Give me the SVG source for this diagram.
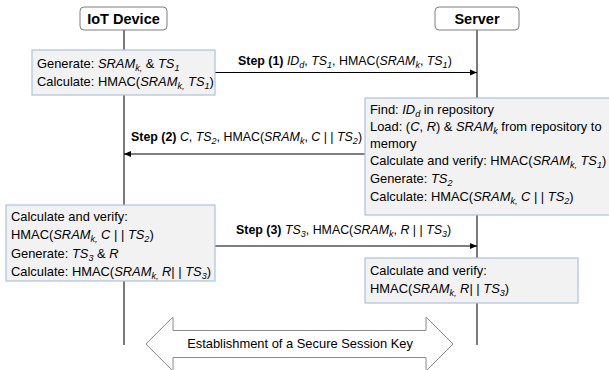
<svg xmlns="http://www.w3.org/2000/svg" width="609" height="370" viewBox="0 0 609 370">
<defs>
<marker id="ah" markerWidth="8" markerHeight="8" refX="7" refY="4" orient="auto" markerUnits="userSpaceOnUse">
<path d="M0,1 L7,4 L0,7 z" fill="#000"/>
</marker>
<style>
text{font-family:"Liberation Sans",Arial,sans-serif;font-size:12.9px;fill:#000}
.st{font-size:12.4px}
.hd{font-size:14.5px;font-weight:bold;text-anchor:middle}
.b{font-weight:bold}
.i{font-style:italic}
.hdbox{fill:#fff;stroke:#7f7f7f;stroke-width:1}
.box{fill:#f2f2f2;stroke:#a9c4de;stroke-width:1.2}
.life{stroke:#595959;stroke-width:1.6;fill:none}
.msg{stroke:#000;stroke-width:1.2;fill:none;marker-end:url(#ah)}
.sub{font-size:9px}
</style>
</defs>
<rect width="609" height="370" fill="#fff"/>
<g id="lifelines">
<line class="life" x1="124" y1="30" x2="124" y2="345"/>
<line class="life" x1="477" y1="30" x2="477" y2="345"/>
</g>
<g id="iot-device">
<rect class="hdbox" x="80" y="7" width="87" height="23" rx="4"/>
<text class="hd" x="123.5" y="24">IoT Device</text>
</g>
<g id="server">
<rect class="hdbox" x="435" y="7" width="84" height="23" rx="4"/>
<text class="hd" x="477" y="24">Server</text>
</g>
<g id="connectors">
<line class="msg" x1="215" y1="72.5" x2="477" y2="72.5"/>
<line class="msg" x1="365" y1="154" x2="124" y2="154"/>
<line class="msg" x1="215" y1="246" x2="477" y2="246"/>
<text class="st" x="238" y="65"><tspan class="b">Step (1) </tspan><tspan class="i">ID</tspan><tspan class="sub i" dy="3">d</tspan><tspan dy="-3">, </tspan><tspan class="i">TS</tspan><tspan class="sub i" dy="3">1</tspan><tspan dy="-3">, HMAC(</tspan><tspan class="i">SRAM</tspan><tspan class="sub i" dy="3">k</tspan><tspan dy="-3">, </tspan><tspan class="i">TS</tspan><tspan class="sub i" dy="3">1</tspan><tspan dy="-3">)</tspan></text>
<text class="st" x="131" y="141"><tspan class="b">Step (2) </tspan><tspan class="i">C</tspan>, <tspan class="i">TS</tspan><tspan class="sub i" dy="3">2</tspan><tspan dy="-3">, HMAC(</tspan><tspan class="i">SRAM</tspan><tspan class="sub i" dy="3">k</tspan><tspan dy="-3">, </tspan><tspan class="i">C</tspan> | | <tspan class="i">TS</tspan><tspan class="sub i" dy="3">2</tspan><tspan dy="-3">)</tspan></text>
<text class="st" x="236" y="234"><tspan class="b">Step (3) </tspan><tspan class="i">TS</tspan><tspan class="sub i" dy="3">3</tspan><tspan dy="-3">, HMAC(</tspan><tspan class="i">SRAM</tspan><tspan class="sub i" dy="3">k</tspan><tspan dy="-3">, </tspan><tspan class="i">R</tspan> | | <tspan class="i">TS</tspan><tspan class="sub i" dy="3">3</tspan><tspan dy="-3">)</tspan></text>
</g>
<g id="iot-step1">
<rect class="box" x="32" y="50" width="183" height="45"/>
<text x="37" y="68">Generate: <tspan class="i">SRAM</tspan><tspan class="sub i" dy="3">k,</tspan><tspan dy="-3"> &amp; </tspan><tspan class="i">TS</tspan><tspan class="sub i" dy="3">1</tspan></text>
<text x="37" y="86">Calculate: HMAC(<tspan class="i">SRAM</tspan><tspan class="sub i" dy="3">k,</tspan><tspan dy="-3" class="i"> TS</tspan><tspan class="sub i" dy="3">1</tspan><tspan dy="-3">)</tspan></text>
</g>
<g id="server-step2">
<rect class="box" x="365" y="98" width="250" height="117"/>
<text x="370" y="114">Find: <tspan class="i">ID</tspan><tspan class="sub i" dy="3">d</tspan><tspan dy="-3"> in repository</tspan></text>
<text x="370" y="131">Load: (<tspan class="i">C</tspan>, <tspan class="i">R</tspan>) &amp; <tspan class="i">SRAM</tspan><tspan class="sub i" dy="3">k</tspan><tspan dy="-3"> from repository to</tspan></text>
<text x="370" y="148">memory</text>
<text x="370" y="165">Calculate and verify: HMAC(<tspan class="i">SRAM</tspan><tspan class="sub i" dy="3">k,</tspan><tspan dy="-3" class="i"> TS</tspan><tspan class="sub i" dy="3">1</tspan><tspan dy="-3">)</tspan></text>
<text x="370" y="183">Generate: <tspan class="i">TS</tspan><tspan class="sub i" dy="3">2</tspan></text>
<text x="370" y="201">Calculate: HMAC(<tspan class="i">SRAM</tspan><tspan class="sub i" dy="3">k,</tspan><tspan dy="-3" class="i"> C</tspan><tspan> | | </tspan><tspan class="i">TS</tspan><tspan class="sub i" dy="3">2</tspan><tspan dy="-3">)</tspan></text>
</g>
<g id="iot-step3">
<rect class="box" x="6" y="205" width="209" height="76"/>
<text x="11" y="221">Calculate and verify:</text>
<text x="11" y="239">HMAC(<tspan class="i">SRAM</tspan><tspan class="sub i" dy="3">k,</tspan><tspan dy="-3" class="i"> C</tspan><tspan> | | </tspan><tspan class="i">TS</tspan><tspan class="sub i" dy="3">2</tspan><tspan dy="-3">)</tspan></text>
<text x="11" y="258">Generate: <tspan class="i">TS</tspan><tspan class="sub i" dy="3">3</tspan><tspan dy="-3"> &amp; </tspan><tspan class="i">R</tspan></text>
<text x="11" y="276">Calculate: HMAC(<tspan class="i">SRAM</tspan><tspan class="sub i" dy="3">k,</tspan><tspan dy="-3" class="i"> R</tspan><tspan>| | </tspan><tspan class="i">TS</tspan><tspan class="sub i" dy="3">3</tspan><tspan dy="-3">)</tspan></text>
</g>
<g id="server-step3">
<rect class="box" x="365" y="258" width="213" height="45"/>
<text x="370" y="275">Calculate and verify:</text>
<text x="370" y="293">HMAC(<tspan class="i">SRAM</tspan><tspan class="sub i" dy="3">k,</tspan><tspan dy="-3" class="i"> R</tspan><tspan>| | </tspan><tspan class="i">TS</tspan><tspan class="sub i" dy="3">3</tspan><tspan dy="-3">)</tspan></text>
</g>
<g id="session-key">
<polygon points="146,344 173,317 173,330.5 426,330.5 426,317 453,344 426,371 426,357.5 173,357.5 173,371" fill="#fff" stroke="#8c8c8c" stroke-width="1"/>
<text x="300" y="348" text-anchor="middle">Establishment of a Secure Session Key</text>
</g>
</svg>
